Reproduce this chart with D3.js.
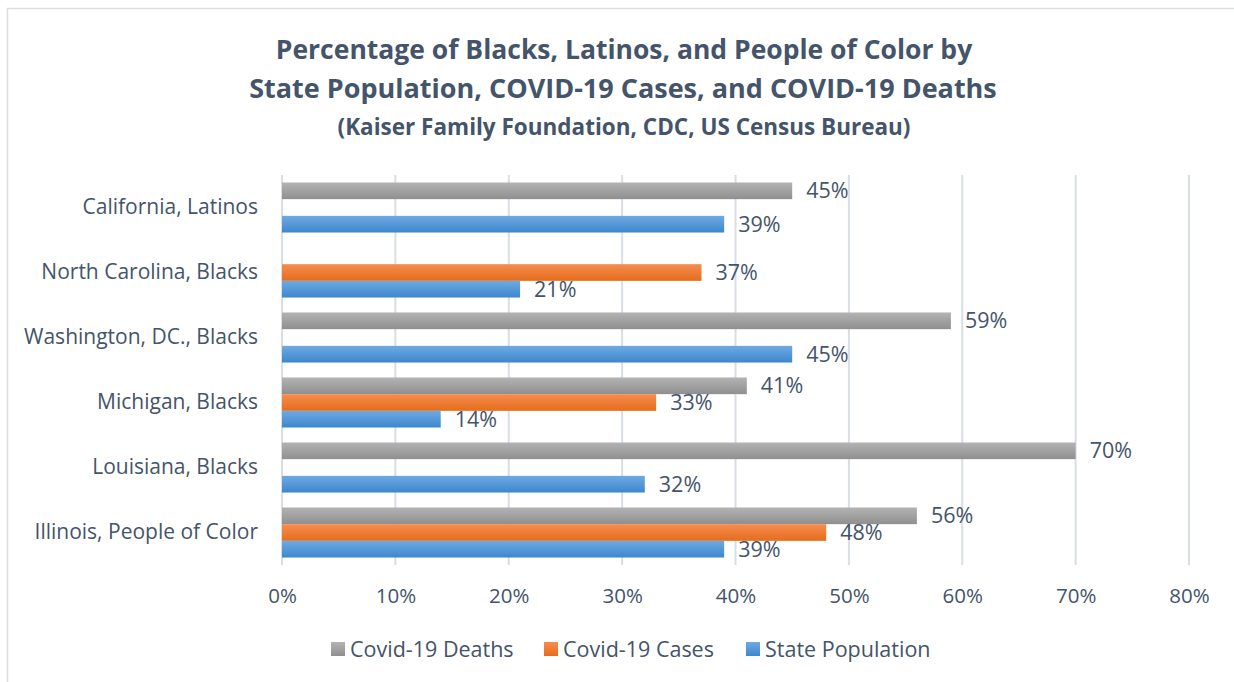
<!DOCTYPE html>
<html>
<head>
<meta charset="utf-8">
<script src="https://cdn.jsdelivr.net/npm/d3@7"></script>
<style>
  body { margin: 0; background: #fff; }
  text { font-family: "Open Sans", sans-serif; fill: #44546a; }
</style>
</head>
<body>
<div id="chart"></div>
<script>
const categories = ["California, Latinos", "North Carolina, Blacks", "Washington, DC., Blacks",
  "Michigan, Blacks", "Louisiana, Blacks", "Illinois, People of Color"];
const seriesNames = ["Covid-19 Deaths", "Covid-19 Cases", "State Population"];
// null = no bar for that state
const deaths = [45, null, 59, 41, 70, 56];
const cases = [null, 37, null, 33, null, 48];
const population = [39, 21, 45, 14, 32, 39];
const xTicks = [0, 10, 20, 30, 40, 50, 60, 70, 80];

const W = 1234, H = 682;
const margin = {top: 175, right: 45, bottom: 117, left: 282};

const svg = d3.select("#chart").append("svg")
  .attr("width", W).attr("height", H);

// gradients, lighter on top like the office style
const colors = [["#b3b3b3", "#8f8f8f"], ["#f58d50", "#e66c1a"], ["#6eaae2", "#3d87cd"]];
const defs = svg.append("defs");
colors.forEach((c, i) => {
  const g = defs.append("linearGradient").attr("id", "grad" + i)
    .attr("x1", 0).attr("y1", 0).attr("x2", 0).attr("y2", 1);
  g.append("stop").attr("offset", "0%").attr("stop-color", c[0]);
  g.append("stop").attr("offset", "100%").attr("stop-color", c[1]);
});

// chart border
svg.append("rect").attr("x", 7.5).attr("y", 8.5).attr("width", 1300).attr("height", 700)
  .attr("fill", "none").attr("stroke", "#d9dde3").attr("stroke-width", 1.5);

// titles
svg.append("text").attr("x", 624).attr("y", 59).attr("text-anchor", "middle")
  .attr("font-size", 26.5).attr("font-weight", "bold")
  .text("Percentage of Blacks, Latinos, and People of Color by");
svg.append("text").attr("x", 623).attr("y", 98).attr("text-anchor", "middle")
  .attr("font-size", 27).attr("font-weight", "bold")
  .text("State Population, COVID-19 Cases, and COVID-19 Deaths");
svg.append("text").attr("x", 624).attr("y", 135).attr("text-anchor", "middle")
  .attr("font-size", 22.5).attr("font-weight", "bold")
  .text("(Kaiser Family Foundation, CDC, US Census Bureau)");

const x = d3.scaleLinear().domain([0, 80]).range([margin.left, margin.left + 907]);
const y = d3.scaleBand().domain(categories).range([margin.top, 565]).paddingInner(0.23).paddingOuter(0.115);
const ySub = d3.scaleBand().domain(seriesNames).range([0, y.bandwidth()]);

// gridlines
svg.append("g").selectAll("line").data(xTicks).join("line")
  .attr("x1", d => x(d)).attr("x2", d => x(d))
  .attr("y1", margin.top).attr("y2", 565)
  .attr("stroke", "#d9dee6").attr("stroke-width", 2);

// x axis labels
const xAxis = svg.append("g").attr("transform", "translate(0,565)")
  .call(d3.axisBottom(x).tickValues(xTicks).tickFormat(d => d + "%").tickSize(0).tickPadding(23));
xAxis.select(".domain").remove();
xAxis.selectAll("text").attr("font-size", 20.5).attr("fill", "#44546a").attr("font-family", "Open Sans");

// y axis labels
const yAxis = svg.append("g").attr("transform", "translate(" + margin.left + ",0)")
  .call(d3.axisLeft(y).tickSize(0).tickPadding(24));
yAxis.select(".domain").remove();
yAxis.selectAll("text").attr("font-size", 21).attr("fill", "#44546a").attr("font-family", "Open Sans");

const allSeries = [deaths, cases, population];
const rows = [];
categories.forEach((c, i) => {
  allSeries.forEach((s, j) => {
    if (s[i] != null) rows.push({cat: c, series: seriesNames[j], idx: j, value: s[i]});
  });
});

svg.append("g").selectAll("rect").data(rows).join("rect")
  .attr("x", x(0))
  .attr("y", d => y(d.cat) + ySub(d.series))
  .attr("width", d => x(d.value) - x(0))
  .attr("height", ySub.bandwidth())
  .attr("fill", d => "url(#grad" + d.idx + ")");

svg.append("g").selectAll("text").data(rows).join("text")
  .attr("x", d => x(d.value) + 14)
  .attr("y", d => y(d.cat) + ySub(d.series) + ySub.bandwidth() / 2)
  .attr("dy", "0.35em")
  .attr("font-size", 21.5)
  .text(d => d.value + "%");

// legend
const legendX = [331, 544, 746];
const legend = svg.append("g").selectAll("g").data(seriesNames).join("g")
  .attr("transform", (d, i) => "translate(" + legendX[i] + ",642)");
legend.append("rect").attr("width", 14).attr("height", 14)
  .attr("fill", (d, i) => "url(#grad" + i + ")");
legend.append("text").attr("x", 19).attr("y", 7).attr("dy", "0.35em")
  .attr("font-size", 21.5).text(d => d);
</script>
</body>
</html>
